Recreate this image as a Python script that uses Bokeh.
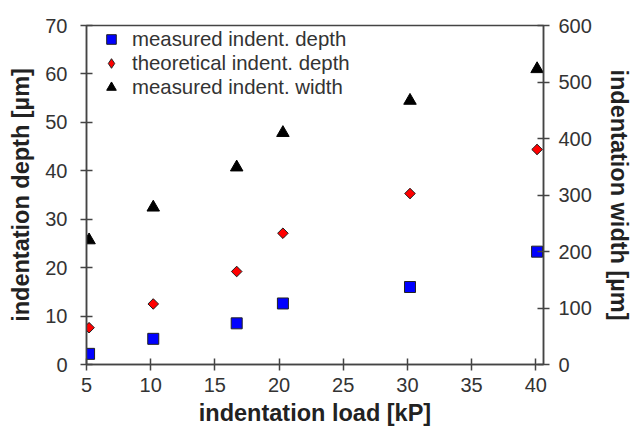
import math
from bokeh.plotting import figure
from bokeh.models import Range1d, LinearAxis, Legend, LegendItem, FixedTicker
from bokeh.embed import file_html
from bokeh.resources import INLINE

load = [5.2, 10.2, 16.7, 20.3, 30.2, 40.1]
meas_depth = [2.2, 5.3, 8.5, 12.6, 16.0, 23.3]
theo_depth = [7.6, 12.5, 19.2, 27.1, 35.3, 44.4]
meas_width = [220, 278, 349, 410, 467, 523]

x_ticks = [5, 10, 15, 20, 25, 30, 35, 40]
yl_ticks = [0, 10, 20, 30, 40, 50, 60, 70]
yr_ticks = [0, 100, 200, 300, 400, 500, 600]

FONT = "Liberation Sans"
AX = "#444444"
TXT = "#333333"

p = figure(width=634, height=428, output_backend="svg", toolbar_location=None,
           x_range=Range1d(5, 40.6), y_range=Range1d(0, 70),
           min_border_left=86, min_border_right=88, min_border_top=25, min_border_bottom=64)
p.extra_y_ranges = {"w": Range1d(0, 600)}
p.grid.visible = False
p.outline_line_color = AX
p.outline_line_width = 1.5
p.background_fill_color = "white"
p.border_fill_color = "white"

r_sq = p.scatter(load, meas_depth, marker="square", size=11, fill_color="#0000ff", line_color="#222222", line_width=1)
# narrow diamond (used for the legend) hidden under the wider rotated-square diamond
r_di_leg = p.scatter(load, theo_depth, marker="diamond", size=9.5, fill_color="#ff0000", line_color="#222222", line_width=1)
r_di = p.scatter(load, theo_depth, marker="square", size=7.5, angle=math.pi / 4, fill_color="#ff0000", line_color="#222222", line_width=1)
r_tr = p.scatter(load, meas_width, marker="triangle", size=12.5, fill_color="black", line_color="black", y_range_name="w")

def style(ax, ticks, label):
    ax.ticker = FixedTicker(ticks=ticks)
    ax.minor_tick_line_color = None
    ax.major_tick_in = 6
    ax.major_tick_out = 6
    ax.axis_line_color = AX
    ax.axis_line_width = 1.5
    ax.major_tick_line_color = AX
    ax.major_tick_line_width = 1.5
    ax.major_label_text_font = FONT
    ax.major_label_text_font_size = "20px"
    ax.major_label_text_color = TXT
    ax.axis_label = label
    ax.axis_label_text_font = FONT
    ax.axis_label_text_font_size = "23.5px"
    ax.axis_label_text_font_style = "bold"
    ax.axis_label_text_color = "#222222"

style(p.xaxis[0], x_ticks, "indentation load [kP]")
style(p.yaxis[0], yl_ticks, "indentation depth [µm]")
p.xaxis[0].major_label_standoff = 7
p.xaxis[0].axis_label_standoff = 5
p.yaxis[0].major_label_standoff = 13
p.yaxis[0].axis_label_standoff = 8

ra = LinearAxis(y_range_name="w")
style(ra, yr_ticks, "indentation width [µm]")
ra.major_label_standoff = 9
ra.axis_label_standoff = 11
p.add_layout(ra, "right")

legend = Legend(items=[
    LegendItem(label="measured indent. depth", renderers=[r_sq]),
    LegendItem(label="theoretical indent. depth", renderers=[r_di_leg]),
    LegendItem(label="measured indent. width", renderers=[r_tr]),
], location=(13, 265))
legend.border_line_color = None
legend.background_fill_alpha = 0
legend.label_text_font = FONT
legend.label_text_font_size = "20.4px"
legend.label_text_color = TXT
legend.spacing = 0
legend.glyph_width = 24
legend.label_height = 24
legend.glyph_height = 24
legend.margin = 0
legend.padding = 0
legend.label_standoff = 9
p.add_layout(legend)

open("out.html", "w").write(file_html(p, INLINE))
